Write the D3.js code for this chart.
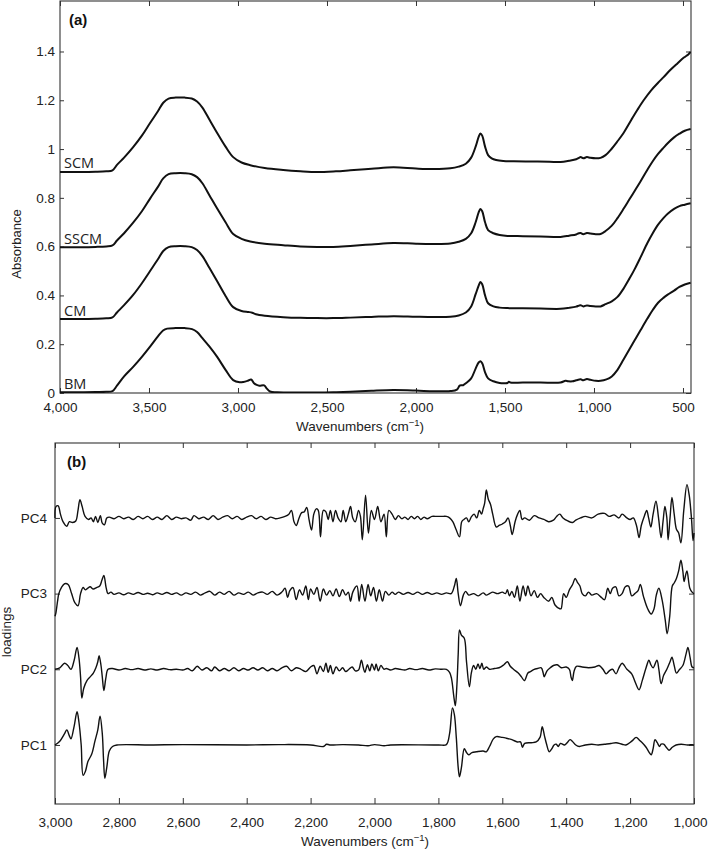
<!DOCTYPE html>
<html><head><meta charset="utf-8">
<script src="https://cdn.jsdelivr.net/npm/d3@7/dist/d3.min.js"></script>
<style>
body{margin:0;background:#fff;}
svg{display:block;}
.tick text{font-family:"Liberation Sans",Arial,sans-serif;fill:#222;}
</style></head>
<body><svg id="chart" width="709" height="852"></svg>
<script>
// ---------- DATA: panel (a) absorbance spectra [wavenumber, absorbance] ----------
const spectraNames = ["SCM","SSCM","CM","BM"];
const SCM = [[4000,0.906],[3900,0.906],[3800,0.907],[3740,0.909],[3705,0.913],[3680,0.935],[3640,0.965],[3589,1.008],[3540,1.055],[3494,1.107],[3450,1.155],[3420,1.19],[3390,1.207],[3350,1.211],[3300,1.211],[3260,1.207],[3230,1.195],[3200,1.17],[3160,1.12],[3117,1.066],[3070,1.01],[3027,0.967],[2980,0.945],[2931,0.934],[2850,0.922],[2746,0.914],[2650,0.909],[2555,0.906],[2450,0.909],[2369,0.913],[2250,0.919],[2127,0.925],[2000,0.92],[1900,0.918],[1807,0.921],[1760,0.928],[1720,0.94],[1690,0.965],[1665,1.01],[1648,1.05],[1638,1.064],[1628,1.055],[1612,1.01],[1595,0.975],[1575,0.962],[1550,0.955],[1510,0.951],[1450,0.95],[1350,0.949],[1250,0.948],[1188,0.947],[1140,0.952],[1100,0.958],[1085,0.964],[1075,0.967],[1060,0.962],[1040,0.967],[1020,0.964],[990,0.962],[963,0.964],[935,0.975],[907,0.996],[870,1.03],[834,1.066],[790,1.12],[755,1.162],[721,1.2],[680,1.24],[640,1.272],[609,1.295],[570,1.325],[530,1.352],[495,1.375],[470,1.388],[457,1.398]];
const SSCM = [[4000,0.598],[3900,0.598],[3800,0.599],[3740,0.601],[3705,0.605],[3680,0.625],[3640,0.655],[3589,0.698],[3540,0.745],[3494,0.797],[3450,0.845],[3420,0.88],[3390,0.897],[3350,0.901],[3300,0.901],[3260,0.897],[3230,0.885],[3200,0.86],[3160,0.81],[3117,0.756],[3070,0.7],[3027,0.652],[2980,0.632],[2931,0.621],[2850,0.612],[2746,0.606],[2650,0.601],[2555,0.599],[2465,0.599],[2369,0.603],[2250,0.609],[2127,0.615],[2000,0.612],[1900,0.611],[1807,0.613],[1760,0.62],[1720,0.632],[1690,0.655],[1665,0.7],[1648,0.74],[1638,0.754],[1628,0.745],[1612,0.7],[1595,0.668],[1565,0.655],[1530,0.648],[1486,0.644],[1400,0.643],[1300,0.642],[1188,0.64],[1140,0.645],[1100,0.65],[1085,0.655],[1075,0.656],[1060,0.651],[1040,0.656],[1020,0.654],[990,0.651],[963,0.652],[935,0.664],[900,0.686],[868,0.717],[834,0.755],[800,0.795],[770,0.83],[738,0.868],[700,0.915],[670,0.95],[640,0.98],[610,1.005],[586,1.024],[550,1.048],[520,1.063],[490,1.075],[457,1.082]];
const CM = [[4000,0.303],[3900,0.303],[3800,0.304],[3740,0.306],[3705,0.31],[3680,0.33],[3640,0.36],[3589,0.402],[3540,0.45],[3494,0.5],[3450,0.548],[3420,0.582],[3390,0.598],[3350,0.602],[3300,0.602],[3260,0.598],[3230,0.586],[3200,0.561],[3160,0.512],[3117,0.458],[3070,0.398],[3027,0.352],[2980,0.336],[2940,0.332],[2920,0.329],[2900,0.323],[2850,0.317],[2746,0.311],[2650,0.308],[2555,0.307],[2465,0.307],[2369,0.309],[2250,0.312],[2127,0.315],[2000,0.313],[1900,0.312],[1807,0.313],[1760,0.318],[1720,0.33],[1690,0.355],[1665,0.405],[1648,0.44],[1638,0.455],[1628,0.446],[1612,0.4],[1595,0.368],[1565,0.355],[1530,0.35],[1486,0.348],[1400,0.347],[1300,0.346],[1188,0.345],[1140,0.349],[1100,0.354],[1085,0.358],[1075,0.36],[1060,0.355],[1040,0.359],[1020,0.357],[990,0.355],[963,0.355],[935,0.364],[900,0.376],[868,0.394],[834,0.428],[800,0.47],[770,0.51],[738,0.557],[700,0.615],[670,0.655],[640,0.69],[610,0.717],[586,0.735],[550,0.755],[520,0.766],[490,0.772],[457,0.778]];
const BM = [[4000,0.003],[3900,0.003],[3800,0.004],[3740,0.005],[3705,0.008],[3680,0.03],[3640,0.068],[3589,0.107],[3540,0.148],[3494,0.19],[3450,0.232],[3421,0.256],[3398,0.264],[3350,0.266],[3300,0.266],[3258,0.262],[3230,0.25],[3200,0.225],[3160,0.19],[3117,0.148],[3070,0.095],[3027,0.053],[2990,0.044],[2970,0.045],[2945,0.05],[2926,0.055],[2910,0.04],[2895,0.033],[2880,0.03],[2853,0.031],[2838,0.018],[2820,0.006],[2780,0.003],[2650,0.002],[2555,0.002],[2465,0.003],[2369,0.005],[2250,0.009],[2127,0.012],[2000,0.01],[1900,0.007],[1807,0.008],[1770,0.014],[1755,0.03],[1745,0.032],[1735,0.032],[1720,0.04],[1690,0.06],[1665,0.1],[1648,0.125],[1638,0.13],[1628,0.122],[1612,0.085],[1595,0.06],[1565,0.048],[1530,0.041],[1500,0.04],[1486,0.041],[1478,0.046],[1470,0.043],[1400,0.043],[1300,0.043],[1188,0.043],[1160,0.05],[1145,0.048],[1120,0.048],[1100,0.052],[1075,0.056],[1060,0.052],[1040,0.057],[1020,0.054],[990,0.05],[963,0.05],[930,0.056],[900,0.068],[868,0.095],[834,0.137],[800,0.18],[770,0.218],[738,0.258],[700,0.305],[670,0.34],[640,0.37],[610,0.39],[586,0.403],[550,0.42],[520,0.435],[490,0.445],[457,0.452]];
const spectraBase = [0.906, 0.598, 0.303, 0.003];
const xTicksA = [4000,3500,3000,2500,2000,1500,1000,500];
const yTicksA = [0,0.2,0.4,0.6,0.8,1,1.2,1.4];

// ---------- DATA: panel (b) PCA loadings [wavenumber, loading] ----------
const pcNames = ["PC1","PC2","PC3","PC4"];
const PC1 = [[3000,0],[2985,0.05],[2970,0.15],[2963,0.2],[2955,0.12],[2950,0.08],[2940,0.25],[2931,0.44],[2925,0.3],[2918,0],[2912,-0.4],[2905,-0.35],[2897,-0.22],[2885,-0.12],[2875,0.05],[2866,0.2],[2859,0.38],[2852,0.15],[2848,-0.2],[2844,-0.44],[2838,-0.3],[2830,-0.08],[2820,-0.02],[2806,0],[2700,0],[2600,0.005],[2400,0],[2300,0.005],[2200,0],[2160,-0.02],[2150,0.01],[2140,0],[2100,0.005],[2050,0],[2020,-0.01],[2000,0.005],[1970,-0.01],[1950,0],[1800,0],[1775,0.005],[1765,0.15],[1756,0.49],[1750,0.4],[1744,0.1],[1738,-0.3],[1734,-0.42],[1728,-0.3],[1719,-0.05],[1712,-0.1],[1705,-0.13],[1695,-0.1],[1681,-0.09],[1660,-0.08],[1650,-0.09],[1640,-0.02],[1628,0.08],[1619,0.11],[1600,0.1],[1588,0.09],[1570,0.07],[1553,0.04],[1543,0.04],[1537,-0.03],[1530,0.02],[1510,0.03],[1494,0.04],[1482,0.1],[1475,0.24],[1468,0.12],[1462,0.02],[1453,-0.09],[1445,-0.05],[1438,0],[1431,0.01],[1425,-0.02],[1418,0.02],[1405,0],[1395,0.04],[1388,0.07],[1381,0.05],[1370,0],[1359,-0.02],[1340,0],[1320,0.01],[1300,0],[1280,0.01],[1260,0.02],[1244,0.03],[1225,0.01],[1213,0],[1195,0.05],[1181,0.1],[1170,0.06],[1162,0.03],[1150,-0.03],[1140,-0.1],[1134,-0.13],[1128,-0.05],[1122,0.07],[1115,0.03],[1108,-0.02],[1103,0.01],[1095,0.01],[1085,-0.04],[1078,-0.07],[1068,-0.03],[1056,0],[1040,0.01],[1020,0],[1005,0.005],[1000,0]];
const PC2 = [[3000,0],[2985,0.02],[2970,0.08],[2960,0.05],[2950,0],[2940,0.12],[2931,0.29],[2925,0.15],[2920,-0.1],[2916,-0.38],[2910,-0.25],[2900,-0.15],[2890,-0.1],[2880,-0.05],[2872,0.02],[2866,0.1],[2862,0.18],[2856,0.05],[2852,-0.1],[2847,-0.28],[2841,-0.12],[2834,0],[2820,0.01],[2800,-0.01],[2780,0.01],[2760,-0.005],[2740,0.01],[2720,-0.01],[2700,0.005],[2680,-0.01],[2660,0.01],[2640,-0.005],[2620,0],[2600,-0.01],[2585,0.01],[2570,-0.02],[2555,0.04],[2540,-0.01],[2525,0.02],[2510,-0.02],[2500,0.03],[2485,-0.02],[2470,0.01],[2455,-0.02],[2440,0.02],[2425,-0.02],[2410,0.01],[2395,-0.01],[2380,0.02],[2365,-0.01],[2350,0.02],[2335,-0.02],[2320,0.01],[2305,-0.02],[2290,0.02],[2275,0.04],[2260,-0.02],[2245,0.02],[2230,0],[2215,-0.03],[2200,0.03],[2190,0.05],[2180,-0.06],[2170,0.04],[2160,-0.03],[2152,0.08],[2145,-0.04],[2138,0.05],[2130,-0.06],[2120,0.03],[2110,-0.02],[2100,0.02],[2090,-0.03],[2080,0],[2070,0.03],[2060,-0.02],[2050,-0.01],[2041,0.12],[2035,0.02],[2030,-0.04],[2022,0.06],[2015,-0.02],[2008,0.07],[2000,-0.01],[1995,0.07],[1988,-0.02],[1980,0.05],[1970,0],[1963,0.01],[1950,-0.01],[1935,0.01],[1920,0],[1905,-0.01],[1890,0.01],[1870,-0.005],[1850,0.01],[1830,-0.01],[1810,0.005],[1790,0],[1775,0],[1765,-0.04],[1759,-0.12],[1752,-0.35],[1747,-0.48],[1742,-0.2],[1738,0.2],[1734,0.52],[1728,0.45],[1719,0.41],[1712,0.1],[1703,-0.23],[1697,-0.05],[1690,0.05],[1683,0],[1676,0.07],[1670,0.01],[1664,0.08],[1658,0],[1650,0.03],[1640,0],[1625,0.01],[1610,0.02],[1595,0.06],[1584,0.1],[1575,0.04],[1565,0],[1550,-0.05],[1540,-0.1],[1531,-0.15],[1520,-0.05],[1512,-0.03],[1500,0],[1490,0.01],[1478,0.02],[1472,-0.05],[1469,-0.1],[1460,-0.02],[1450,0.02],[1440,0.05],[1428,0.06],[1415,0.02],[1400,0.03],[1390,0],[1385,-0.1],[1381,-0.15],[1375,-0.02],[1368,0.04],[1350,0.03],[1330,0.02],[1310,0.03],[1297,0.05],[1285,0],[1275,-0.06],[1265,-0.02],[1255,0],[1244,-0.06],[1235,0.02],[1225,0.08],[1210,0],[1195,-0.06],[1185,-0.16],[1172,-0.27],[1162,-0.15],[1150,0.02],[1141,0.12],[1135,0.06],[1128,0.02],[1116,0.12],[1110,0],[1103,-0.19],[1095,-0.08],[1085,0],[1075,0.1],[1069,0.16],[1062,0.05],[1055,-0.05],[1045,0],[1035,0.05],[1025,0.2],[1019,0.29],[1012,0.15],[1006,0.03],[1000,0.02]];
const PC3 = [[3000,-0.3],[2997,-0.25],[2992,-0.1],[2988,0],[2980,0.08],[2970,0.13],[2959,0.12],[2948,0],[2938,-0.12],[2928,-0.16],[2920,0],[2912,0.08],[2905,0.05],[2898,0.07],[2890,0.09],[2880,0.06],[2870,0.08],[2860,0.1],[2853,0.18],[2847,0.24],[2840,0.08],[2834,0],[2825,0.02],[2815,-0.01],[2800,0.01],[2785,-0.015],[2770,0.01],[2755,-0.01],[2740,0.015],[2725,-0.01],[2710,0.005],[2695,-0.015],[2680,0.01],[2665,-0.01],[2650,0.015],[2635,-0.01],[2620,0.01],[2605,-0.02],[2590,0.01],[2575,-0.01],[2560,0.02],[2545,-0.02],[2530,0.01],[2515,0.03],[2500,-0.02],[2485,0.02],[2470,-0.01],[2455,0.03],[2440,-0.02],[2425,0.01],[2410,-0.01],[2395,0.02],[2380,-0.02],[2365,0.01],[2350,0.02],[2335,-0.01],[2320,0.03],[2305,-0.02],[2290,0.02],[2280,0.07],[2272,-0.05],[2265,0.04],[2255,0.08],[2245,-0.08],[2235,0.05],[2225,-0.02],[2215,0.1],[2207,-0.08],[2200,0.06],[2190,-0.01],[2180,0.08],[2170,-0.1],[2160,0.06],[2150,-0.02],[2140,0.04],[2130,-0.03],[2120,0.06],[2110,-0.04],[2100,0.05],[2090,-0.02],[2082,0.02],[2075,-0.1],[2068,0.02],[2055,0.1],[2048,-0.1],[2040,0.12],[2030,-0.1],[2020,0.12],[2012,-0.03],[2003,0.08],[1994,-0.1],[1985,0.05],[1975,-0.1],[1966,0.03],[1955,-0.02],[1945,0.02],[1935,-0.01],[1925,0.02],[1910,-0.01],[1895,0.015],[1880,-0.01],[1865,0.02],[1850,-0.01],[1835,0.015],[1820,-0.01],[1805,0.01],[1790,-0.01],[1775,0.01],[1760,0],[1750,0.1],[1744,0.2],[1738,0],[1731,-0.16],[1722,-0.02],[1715,0.03],[1705,-0.02],[1690,0],[1675,-0.03],[1660,0.01],[1650,-0.02],[1640,0],[1630,0.02],[1615,0],[1600,0.02],[1590,0],[1584,0.05],[1578,-0.03],[1570,0.03],[1562,-0.05],[1553,0.1],[1545,-0.1],[1535,0.1],[1527,-0.03],[1520,0.1],[1510,-0.03],[1500,0.04],[1490,-0.05],[1480,0],[1470,-0.05],[1455,-0.1],[1445,-0.05],[1435,-0.15],[1420,-0.2],[1416,-0.2],[1408,0],[1400,-0.05],[1390,0.05],[1380,0.12],[1372,0.2],[1365,0.15],[1357,0.1],[1350,0],[1340,-0.03],[1330,0.02],[1320,-0.02],[1305,0],[1290,-0.05],[1280,-0.08],[1270,0.07],[1262,0],[1255,0.07],[1245,0.09],[1235,-0.03],[1225,0],[1215,0.09],[1205,0.1],[1195,-0.03],[1185,0],[1175,0.04],[1168,0.12],[1158,-0.04],[1145,-0.2],[1134,-0.27],[1125,-0.2],[1118,-0.02],[1110,0.07],[1100,-0.08],[1090,-0.35],[1084,-0.53],[1076,-0.3],[1068,0.1],[1062,0.14],[1055,0.2],[1048,0.3],[1041,0.44],[1035,0.3],[1031,0.16],[1026,0.25],[1022,0.3],[1013,0.07],[1006,0.02],[1000,0]];
const PC4 = [[3000,0],[2997,0.15],[2990,0.16],[2983,0.05],[2975,-0.05],[2963,-0.11],[2955,-0.05],[2945,-0.06],[2935,-0.04],[2928,0.1],[2922,0.24],[2915,0.15],[2906,0.02],[2895,-0.02],[2887,0],[2880,-0.05],[2873,0.02],[2866,-0.06],[2858,0.03],[2852,-0.07],[2845,-0.09],[2838,0],[2830,0.01],[2815,-0.01],[2800,0.02],[2785,-0.01],[2770,0.01],[2755,-0.02],[2740,0.02],[2725,-0.01],[2710,0.02],[2695,-0.02],[2680,0.01],[2665,-0.02],[2650,0.03],[2635,-0.02],[2620,0.01],[2605,-0.01],[2590,0],[2575,-0.03],[2565,0.03],[2550,-0.01],[2535,0.01],[2520,-0.02],[2505,0.03],[2490,-0.02],[2475,0.01],[2460,0.03],[2445,-0.01],[2430,0.02],[2415,-0.02],[2400,0.01],[2385,0.03],[2370,-0.01],[2355,0.02],[2340,-0.02],[2325,0.01],[2310,-0.01],[2295,0],[2280,0.02],[2268,0.05],[2260,0.1],[2252,-0.05],[2245,-0.1],[2236,0],[2228,0.07],[2220,0.08],[2212,0.14],[2205,-0.02],[2197,-0.16],[2190,0.05],[2182,0.12],[2176,0.1],[2169,-0.25],[2160,0.1],[2152,0.08],[2145,-0.02],[2138,0.1],[2130,-0.05],[2122,0.1],[2114,0],[2105,-0.05],[2098,0.1],[2090,-0.05],[2082,0.05],[2075,0.15],[2068,0],[2060,-0.05],[2050,0.1],[2044,0.02],[2038,-0.29],[2028,0.3],[2019,-0.2],[2010,0.1],[2000,-0.02],[1990,0.15],[1980,-0.05],[1970,0.05],[1963,-0.25],[1955,0.1],[1945,0.05],[1935,-0.02],[1925,0.03],[1915,-0.01],[1905,0.01],[1895,-0.02],[1885,0.02],[1875,-0.01],[1865,0.02],[1855,-0.02],[1845,0.01],[1835,-0.01],[1820,0.02],[1805,0.02],[1790,0.02],[1775,0.02],[1765,0],[1755,-0.05],[1745,-0.15],[1734,-0.25],[1727,-0.05],[1720,-0.02],[1712,0],[1705,-0.05],[1696,0.02],[1688,0.05],[1680,0],[1672,0.1],[1665,0.05],[1660,0.12],[1655,0.2],[1650,0.37],[1644,0.25],[1637,0.18],[1630,0.05],[1619,-0.12],[1610,-0.1],[1600,-0.08],[1590,-0.05],[1582,0],[1575,-0.1],[1569,-0.22],[1560,-0.05],[1552,0.05],[1545,0.1],[1538,-0.02],[1530,0],[1515,-0.03],[1500,0.03],[1485,0],[1470,-0.02],[1455,-0.05],[1440,-0.03],[1430,0.02],[1420,0.05],[1410,0],[1395,-0.04],[1380,-0.06],[1370,-0.03],[1355,0],[1340,0.02],[1320,0],[1300,0.05],[1280,0.06],[1265,0.02],[1250,0.04],[1235,0],[1225,0.05],[1210,0],[1200,-0.02],[1190,0],[1180,-0.1],[1172,-0.26],[1165,-0.1],[1155,0.03],[1148,0.1],[1142,0],[1135,-0.12],[1128,0.05],[1119,0.22],[1111,0],[1103,-0.26],[1097,-0.05],[1091,0.15],[1085,0],[1081,-0.29],[1075,0],[1069,0.27],[1062,0.05],[1055,-0.15],[1048,-0.2],[1041,-0.33],[1032,0.1],[1022,0.44],[1015,0.3],[1008,0],[1003,-0.3],[1000,-0.2]];
const xTicksB = [3000,2800,2600,2400,2200,2000,1800,1600,1400,1200,1000];

// ---------- DRAW ----------
const svg = d3.select("#chart");
const fmtComma = d3.format(",");
const tickFont = 13.5;

function styleAxis(g){
  g.select(".domain").remove();
  g.selectAll(".tick line").attr("stroke","#333").attr("stroke-width",1);
  g.selectAll(".tick text").attr("font-size",tickFont).attr("fill","#222");
}

// Panel (a)
const A = {l:60, r:691, t:1, b:393};
const xA = d3.scaleLinear().domain([4000,455]).range([A.l,A.r]);
const yA = d3.scaleLinear().domain([0,1.607]).range([A.b,A.t]);
const gA = svg.append("g");
gA.append("rect").attr("x",A.l).attr("y",A.t).attr("width",A.r-A.l).attr("height",A.b-A.t)
  .attr("fill","none").attr("stroke","#333").attr("stroke-width",1.1);
gA.append("g").attr("transform",`translate(0,${A.b})`)
  .call(d3.axisBottom(xA).tickValues(xTicksA).tickFormat(fmtComma).tickSize(-5).tickPadding(9)).call(styleAxis);
gA.append("g").attr("transform",`translate(0,${A.t})`)
  .call(d3.axisTop(xA).tickValues(xTicksA).tickFormat("").tickSize(-5)).call(styleAxis);
gA.append("g").attr("transform",`translate(${A.l},0)`)
  .call(d3.axisLeft(yA).tickValues(yTicksA).tickFormat(d=>String(+d.toFixed(1))).tickSize(-4).tickPadding(5)).call(styleAxis);
gA.append("g").attr("transform",`translate(${A.r},0)`)
  .call(d3.axisRight(yA).tickValues(yTicksA).tickFormat("").tickSize(-5)).call(styleAxis);

const lineA = d3.line().x(d=>xA(d[0])).y(d=>yA(d[1])).curve(d3.curveCatmullRom.alpha(0.5));
const spectra = [SCM,SSCM,CM,BM];
svg.append("clipPath").attr("id","clipA").append("rect")
  .attr("x",A.l).attr("y",A.t).attr("width",A.r-A.l).attr("height",A.b-A.t);
spectra.forEach((s,i)=>{
  gA.append("path").datum(s).attr("d",lineA).attr("fill","none")
    .attr("stroke","#111").attr("stroke-width",2).attr("clip-path","url(#clipA)");
  gA.append("text").attr("x",A.l+4).attr("y",yA(spectraBase[i])-3.5)
    .attr("font-family","'Open Sans','Noto Sans',sans-serif").attr("font-size",14.5).attr("fill","#222")
    .text(spectraNames[i]);
});
gA.append("text").attr("x",69).attr("y",25).attr("font-family","'Liberation Sans',Arial,sans-serif")
  .attr("font-weight","bold").attr("font-size",15).attr("fill","#111").text("(a)");
gA.append("text").attr("transform",`translate(21,244) rotate(-90)`).attr("text-anchor","middle")
  .attr("font-family","'Liberation Sans',Arial,sans-serif").attr("font-size",13).attr("fill","#222").text("Absorbance");
const tA = gA.append("text").attr("x",360).attr("y",431).attr("text-anchor","middle")
  .attr("font-family","'Liberation Sans',Arial,sans-serif").attr("font-size",13.5).attr("fill","#222");
tA.append("tspan").text("Wavenumbers (cm");
tA.append("tspan").attr("dy",-5).attr("font-size",9.5).text("\u22121");
tA.append("tspan").attr("dy",5).text(")");

// Panel (b)
const B = {l:55, r:694, t:443, b:804};
const xB = d3.scaleLinear().domain([3000,1000]).range([B.l,B.r]);
const yB = d3.scaleLinear().domain([-0.78,3.99]).range([B.b,B.t]);
const gB = svg.append("g");
gB.append("rect").attr("x",B.l).attr("y",B.t).attr("width",B.r-B.l).attr("height",B.b-B.t)
  .attr("fill","none").attr("stroke","#333").attr("stroke-width",1.1);
const xAxisB = gB.append("g").attr("transform",`translate(0,${B.b})`)
  .call(d3.axisBottom(xB).tickValues(xTicksB).tickFormat(fmtComma).tickSize(-6).tickPadding(13)).call(styleAxis);
xAxisB.selectAll(".tick text").filter(d=>d===1000).attr("dx",-4);
gB.append("g").attr("transform",`translate(0,${B.t})`)
  .call(d3.axisTop(xB).tickValues(xTicksB).tickFormat("").tickSize(-5)).call(styleAxis);
gB.append("g").attr("transform",`translate(${B.l},0)`)
  .call(d3.axisLeft(yB).tickValues([0,1,2,3]).tickFormat(i=>pcNames[i]).tickSize(-5).tickPadding(8)).call(styleAxis);
gB.append("g").attr("transform",`translate(${B.r},0)`)
  .call(d3.axisRight(yB).tickValues([0,1,2,3]).tickFormat("").tickSize(-5)).call(styleAxis);

const pcs = [PC1,PC2,PC3,PC4];
pcs.forEach((s,i)=>{
  const line = d3.line().x(d=>xB(d[0])).y(d=>yB(d[1]+i)).curve(d3.curveCatmullRom.alpha(0.5));
  gB.append("path").datum(s).attr("d",line).attr("fill","none")
    .attr("stroke","#111").attr("stroke-width",1.4);
});
gB.append("text").attr("x",67).attr("y",467).attr("font-family","'Liberation Sans',Arial,sans-serif")
  .attr("font-weight","bold").attr("font-size",15).attr("fill","#111").text("(b)");
gB.append("text").attr("transform",`translate(11,632) rotate(-90)`).attr("text-anchor","middle")
  .attr("font-family","'Liberation Sans',Arial,sans-serif").attr("font-size",13.5).attr("fill","#222").text("loadings");
const tB = gB.append("text").attr("x",365).attr("y",846).attr("text-anchor","middle")
  .attr("font-family","'Liberation Sans',Arial,sans-serif").attr("font-size",13.5).attr("fill","#222");
tB.append("tspan").text("Wavenumbers (cm");
tB.append("tspan").attr("dy",-5).attr("font-size",9.5).text("\u22121");
tB.append("tspan").attr("dy",5).text(")");
</script></body></html>
